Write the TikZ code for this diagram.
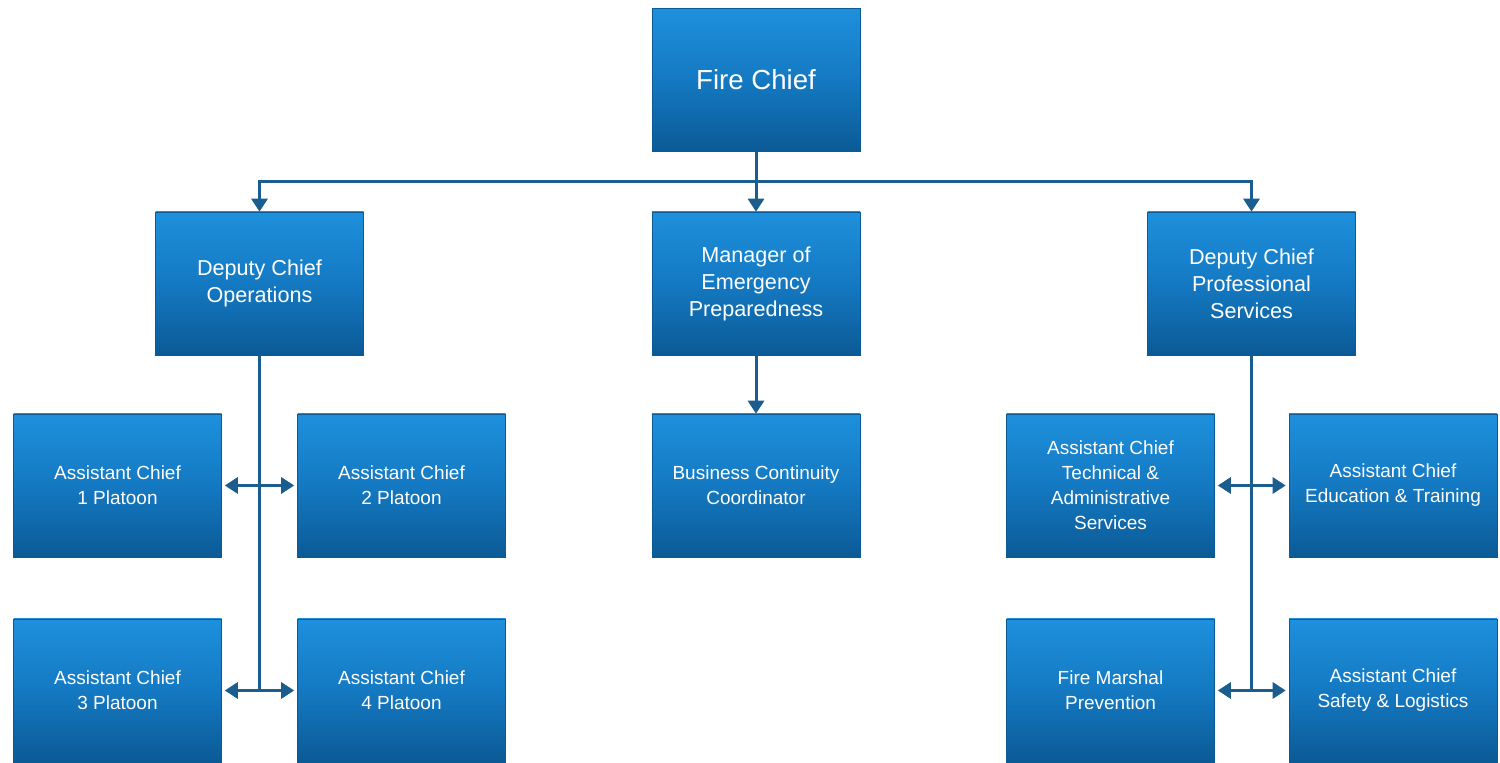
\documentclass[tikz,border=0pt]{standalone}
\usepackage{fontspec}
\setmainfont{Liberation Sans}
\usetikzlibrary{arrows.meta}
\definecolor{boxtop}{HTML}{1E90DC}
\definecolor{boxmid}{HTML}{1479C2}
\definecolor{boxbot}{HTML}{0B5A96}
\definecolor{linec}{HTML}{1B5E8E}
\tikzset{
  orgbox/.style={rectangle, minimum width=104pt, minimum height=71.5pt, inner sep=0pt,
    top color=boxtop, bottom color=boxbot, middle color=boxmid, draw=boxbot, line width=0.3pt,
    text=white, align=center},
  toptext/.style={font=\fontsize{13.8pt}{16pt}\selectfont},
  midtext/.style={font=\fontsize{10.8pt}{13.5pt}\selectfont},
  lowtext/.style={font=\fontsize{9.5pt}{12.5pt}\selectfont},
  conn/.style={draw=linec, line width=1.5pt},
  tip/.style={-{Triangle[length=6.5pt,width=8pt]}},
  dtip/.style={{Triangle[length=6.5pt,width=8pt]}-{Triangle[length=6.5pt,width=8pt]}, shorten <=1.5pt, shorten >=1.5pt}
}
\begin{document}
\begin{tikzpicture}[x=0.5pt,y=-0.5pt]
\useasboundingbox[fill=white] (0,0) rectangle (1500,763);
% top
\node[orgbox,toptext] (fc) at (756,80) {Fire Chief};
% middle row
\node[orgbox,midtext] (dco) at (259.5,283.5) {Deputy Chief\\Operations};
\node[orgbox,midtext] (mep) at (756,283.5) {Manager of\\Emergency\\Preparedness};
\node[orgbox,midtext] (dcp) at (1251.5,283.5) {Deputy Chief\\Professional\\Services};
% lower rows
\node[orgbox,lowtext] (bcc) at (756,485.5) {Business Continuity\\Coordinator};
\node[orgbox,lowtext] (ac1) at (117.5,485.5) {Assistant Chief\\1 Platoon};
\node[orgbox,lowtext] (ac2) at (401.5,485.5) {Assistant Chief\\2 Platoon};
\node[orgbox,lowtext] (ac3) at (117.5,690.5) {Assistant Chief\\3 Platoon};
\node[orgbox,lowtext] (ac4) at (401.5,690.5) {Assistant Chief\\4 Platoon};
\node[orgbox,lowtext] (tas) at (1110.5,485.5) {Assistant Chief\\Technical \&\\Administrative\\Services};
\node[orgbox,lowtext] (edu) at (1393,485.5) {Assistant Chief\\Education \& Training};
\node[orgbox,lowtext] (fmp) at (1110.5,690.5) {Fire Marshal\\Prevention};
\node[orgbox,lowtext] (sal) at (1393,690.5) {Assistant Chief\\Safety \& Logistics};
% connectors
\coordinate (j) at (756,182);
\coordinate (lend) at (259.5,690.5);
\coordinate (rend) at (1251.5,690.5);
\draw[conn] (fc.south) -- (j);
\draw[conn,tip] (j) -| (dco.north);
\draw[conn,tip] (j) -| (dcp.north);
\draw[conn,tip] (j) -- (mep.north);
\draw[conn,tip] (mep.south) -- (bcc.north);
\draw[conn] (dco.south) -- (lend);
\draw[conn] (dcp.south) -- (rend);
\draw[conn,dtip] (ac1.east) -- (ac2.west);
\draw[conn,dtip] (ac3.east) -- (ac4.west);
\draw[conn,dtip] (tas.east) -- (edu.west);
\draw[conn,dtip] (fmp.east) -- (sal.west);
\end{tikzpicture}
\end{document}
